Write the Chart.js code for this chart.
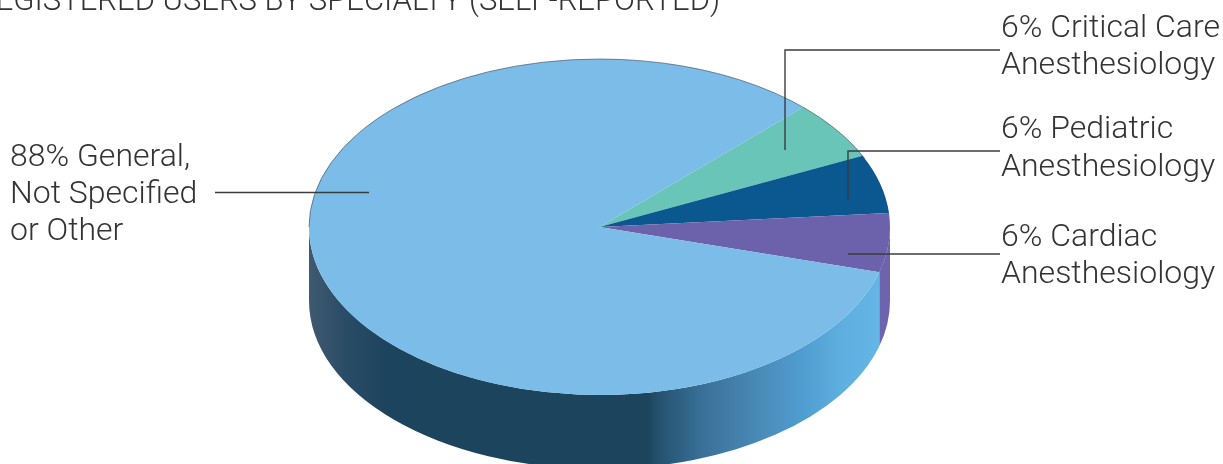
<!DOCTYPE html>
<html>
<head>
<meta charset="utf-8">
<title>Registered users by specialty</title>
<script src="https://cdn.jsdelivr.net/npm/chart.js@4"></script>
<style>
    html, body { margin: 0; padding: 0; background: #fff; overflow: hidden; }
    #wrap { position: relative; width: 1223px; height: 464px; overflow: hidden; }
    canvas { position: absolute; left: 0; top: 0; }
    .txt {
        position: absolute;
        font-family: Roboto, sans-serif;
        font-weight: 300;
        font-size: 32px;
        line-height: 37px;
        color: #333;
        white-space: pre;
    }
    #title { left: -24px; top: -16px; font-size: 31px; line-height: 32px; }
</style>
</head>
<body>
<div id="wrap">
    <canvas id="pie" width="1223" height="464"></canvas>
    <div class="txt" id="title">REGISTERED USERS BY SPECIALTY (SELF-REPORTED)</div>
    <div class="txt" style="left:10px;top:137px">88% General,
Not Specified
or Other</div>
    <div class="txt" style="left:1001px;top:8px">6% Critical Care
Anesthesiology</div>
    <div class="txt" style="left:1001px;top:108px;line-height:38px">6% Pediatric
Anesthesiology</div>
    <div class="txt" style="left:1001px;top:217px">6% Cardiac
Anesthesiology</div>
</div>

<script>
const categories = ["Critical Care Anesthesiology", "Pediatric Anesthesiology", "Cardiac Anesthesiology", "General, Not Specified or Other"];
const shares = [6, 6, 6, 88];
const topColors = ["#68c5b8", "#0b5890", "#6c62ab", "#7bbce8"];

// ellipse of the top face and height of the wall
const cx = 599.5, cy = 227, rx = 290.5, ry = 168, depth = 74;

function wallFill(ctx, index) {
    if (index === 2) return "#6e64ae";
    if (index !== 3) return topColors[index];
    const g = ctx.createLinearGradient(cx - rx, 0, cx + rx, 0);
    const stop = x => (x - (cx - rx)) / (2 * rx);
    g.addColorStop(0, "#3f5a70");
    g.addColorStop(stop(345), "#2a4c66");
    g.addColorStop(stop(385), "#1d445e");
    g.addColorStop(stop(648), "#1c445c");
    g.addColorStop(stop(656), "#244f6c");
    g.addColorStop(stop(700), "#386f96");
    g.addColorStop(stop(760), "#4a8bb8");
    g.addColorStop(stop(800), "#4f9ccf");
    g.addColorStop(stop(845), "#5fb0e0");
    g.addColorStop(1, "#66b6e6");
    return g;
}

const pie3d = {
    id: "pie3d",
    beforeDatasetsDraw(chart) {
        const { ctx } = chart;
        const arcs = chart.getDatasetMeta(0).data;

        // the wall, only where the slice faces the front (canvas angle 0 to PI)
        arcs.forEach((arc, i) => {
            let a0 = arc.startAngle, a1 = arc.endAngle;
            const ranges = [[0, Math.PI], [2 * Math.PI, 3 * Math.PI], [-2 * Math.PI, -Math.PI]];
            ranges.forEach(([lo, hi]) => {
                const s = Math.max(a0, lo), e = Math.min(a1, hi);
                if (e <= s) return;
                ctx.beginPath();
                ctx.ellipse(cx, cy, rx, ry, 0, s, e);
                ctx.ellipse(cx, cy + depth, rx, ry, 0, e, s, true);
                ctx.closePath();
                ctx.fillStyle = wallFill(ctx, i);
                ctx.fill();
            });
        });

        const r = arcs[0].outerRadius;
        ctx.save();
        ctx.translate(cx, cy);
        ctx.scale(rx / r, ry / r);
        ctx.translate(-arcs[0].x, -arcs[0].y);
    },
    afterDatasetsDraw(chart) {
        const { ctx } = chart;
        ctx.restore();

        // thin outline on the back rim
        ctx.beginPath();
        ctx.ellipse(cx, cy, rx, ry, 0, Math.PI, 2 * Math.PI - 0.42);
        ctx.strokeStyle = "rgba(60, 70, 80, 0.6)";
        ctx.lineWidth = 1;
        ctx.stroke();

        // leader lines
        const leaders = [
            [[215, 192.5], [369, 192.5]],
            [[1000, 50], [785, 50], [785, 150]],
            [[1000, 151], [848, 151], [848, 200]],
            [[1000, 254], [848, 254]]
        ];
        ctx.strokeStyle = "#3c3c3c";
        ctx.lineWidth = 1.4;
        leaders.forEach(line => {
            ctx.beginPath();
            line.forEach(([x, y], i) => i ? ctx.lineTo(x, y) : ctx.moveTo(x, y));
            ctx.stroke();
        });
    }
};

new Chart(document.getElementById("pie").getContext("2d"), {
    type: "pie",
    data: {
        labels: categories,
        datasets: [{
            data: shares,
            backgroundColor: topColors,
            borderWidth: 0
        }]
    },
    options: {
        responsive: false,
        animation: false,
        rotation: 44.5,
        plugins: {
            legend: { display: false },
            tooltip: { enabled: false }
        }
    },
    plugins: [pie3d]
});
</script>
</body>
</html>
